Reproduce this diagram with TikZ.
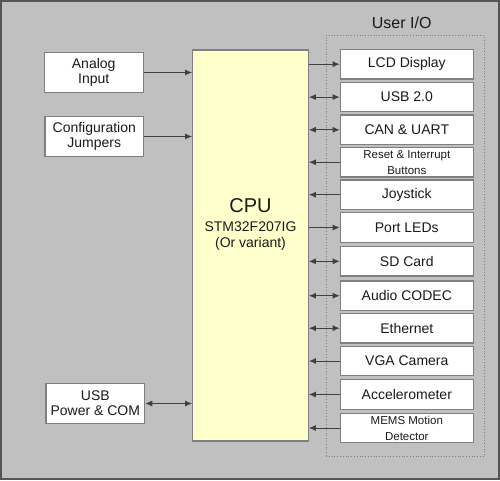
\documentclass[tikz,border=0pt]{standalone}
\usepackage{fontspec}
\setmainfont{Liberation Sans}
\usetikzlibrary{arrows.meta}
\definecolor{bggray}{HTML}{C0C0C0}
\definecolor{framegray}{HTML}{555555}
\definecolor{boxgray}{HTML}{7F7F7F}
\definecolor{cpuyellow}{HTML}{FFFFCC}
\definecolor{linegray}{HTML}{404040}
\definecolor{txt}{HTML}{1A1A1A}
\tikzset{
  blockbox/.style={draw=boxgray, line width=1.2pt, fill=white, rectangle, inner sep=0pt,
    align=center, text=txt, font=\fontsize{14}{15}\selectfont},
  iobox/.style={blockbox, minimum width=133pt, minimum height=29.5pt},
  smallio/.style={iobox, font=\fontsize{11.5}{16}\selectfont},
  conn/.style={draw=linegray, line width=0.9pt},
  cputxt/.style={text=txt, inner sep=0pt, anchor=base},
  ltip/.tip={Latex[length=7pt,width=6pt]},
}
\begin{document}
\begin{tikzpicture}[x=1pt,y=-1pt]
\useasboundingbox (0,0) rectangle (500,480);
\draw[fill=bggray, draw=framegray, line width=2pt] (1,1) rectangle (499,479);

% user I/O group
\node[draw=boxgray, line width=0.8pt, dotted, minimum width=158.3pt, minimum height=420.6pt, inner sep=0pt] (userio) at (405.15,246) {};
\node[text=txt, font=\fontsize{16}{18}\selectfont] (uiolabel) at (401.7,23) {User I/O};

% left blocks
\node[blockbox, minimum width=99pt, minimum height=39.5pt] (analog) at (93.7,72.5) {Analog\\Input};
\node[blockbox, minimum width=98.7pt, minimum height=39.7pt] (config) at (94.3,136.5) {Configuration\\Jumpers};
\node[blockbox, minimum width=98.7pt, minimum height=39.7pt] (usbpwr) at (95.3,403.5) {USB\\Power \& COM};

% CPU
\node[draw=boxgray, line width=1.2pt, fill=cpuyellow, minimum width=115.6pt, minimum height=391pt, inner sep=0pt] (cpu) at (250.5,245.5) {};
\node[cputxt, font=\fontsize{20}{22}\selectfont] (cpu1) at (250.5,212.5) {CPU};
\node[cputxt, font=\fontsize{14}{16}\selectfont] (cpu2) at (250.5,231.5) {STM32F207IG};
\node[cputxt, font=\fontsize{14}{16}\selectfont] (cpu3) at (250.5,247.5) {(Or variant)};

% right I/O blocks
\node[iobox] (lcd) at (406.8,64.2) {LCD Display};
\node[iobox] (usb) at (406.8,97.1) {USB 2.0};
\node[iobox] (can) at (406.8,129.8) {CAN \& UART};
\node[smallio] (reset) at (406.8,162.2) {Reset \& Interrupt\\Buttons};
\node[iobox] (joy) at (406.8,194.7) {Joystick};
\node[iobox] (leds) at (406.8,227.5) {Port LEDs};
\node[iobox] (sd) at (406.8,261.3) {SD Card};
\node[iobox] (audio) at (406.8,295.7) {Audio CODEC};
\node[iobox] (eth) at (406.8,328.2) {Ethernet};
\node[iobox] (vga) at (406.8,361) {VGA Camera};
\node[iobox] (accel) at (406.8,394.5) {Accelerometer};
\node[smallio] (mems) at (406.8,428) {MEMS Motion\\Detector};

% left connectors
\draw[conn, -{ltip}] (analog.east) -- (analog.east -| cpu.west);
\draw[conn, -{ltip}] (config.east) -- (config.east -| cpu.west);
\draw[conn, {ltip}-{ltip}] (usbpwr.east) -- (usbpwr.east -| cpu.west);

% right connectors
\draw[conn, -{ltip}] (lcd.west -| cpu.east) -- (lcd.west);
\draw[conn, {ltip}-{ltip}] (usb.west -| cpu.east) -- (usb.west);
\draw[conn, {ltip}-{ltip}] (can.west -| cpu.east) -- (can.west);
\draw[conn, {ltip}-] (reset.west -| cpu.east) -- (reset.west);
\draw[conn, {ltip}-] (joy.west -| cpu.east) -- (joy.west);
\draw[conn, -{ltip}] (leds.west -| cpu.east) -- (leds.west);
\draw[conn, {ltip}-{ltip}] (sd.west -| cpu.east) -- (sd.west);
\draw[conn, {ltip}-{ltip}] (audio.west -| cpu.east) -- (audio.west);
\draw[conn, {ltip}-{ltip}] (eth.west -| cpu.east) -- (eth.west);
\draw[conn, {ltip}-] (vga.west -| cpu.east) -- (vga.west);
\draw[conn, {ltip}-] (accel.west -| cpu.east) -- (accel.west);
\draw[conn, {ltip}-] (mems.west -| cpu.east) -- (mems.west);
\end{tikzpicture}
\end{document}
